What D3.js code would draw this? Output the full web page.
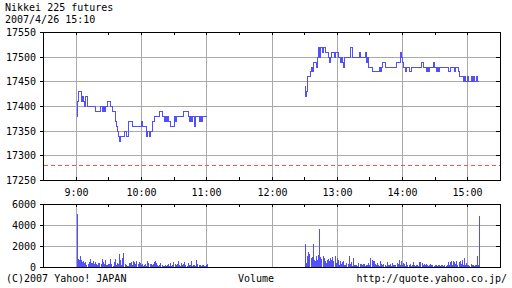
<!DOCTYPE html>
<html>
<head>
<meta charset="utf-8">
<script src="https://cdn.jsdelivr.net/npm/d3@7"></script>
<style>
  body { margin: 0; background: #fff; }
  svg { display: block; }
  .axis path { display: none; }
  .axis line { stroke: #000; }
  .axis text, text { fill: #000; font-family: "DejaVu Sans Mono", monospace; font-size: 10px; }
</style>
</head>
<body>
<script>
/* Data (one value per minute) */
const title = "Nikkei 225 futures";
const stamp = "2007/4/26 15:10";
const prevClose = 17280;

const priceTicks = [17250, 17300, 17350, 17400, 17450, 17500, 17550];
const volumeTicks = [0, 2000, 4000, 6000];
const hours = [9, 10, 11, 12, 13, 14, 15];
const hourLabels = ["9:00", "10:00", "11:00", "12:00", "13:00", "14:00", "15:00"];

// 9:00 - 11:00
const morningPrices = [
  17380,17410,17430,17430,17430,17410,17420,17410,17400,17420,
  17400,17400,17400,17400,17400,17400,17400,17400,17390,17390,
  17390,17390,17400,17400,17390,17400,17390,17400,17400,17410,
  17410,17410,17400,17390,17390,17390,17370,17360,17350,17340,
  17330,17340,17340,17340,17350,17350,17340,17340,17370,17370,
  17370,17370,17360,17360,17360,17360,17360,17360,17360,17360,
  17370,17360,17360,17360,17360,17340,17350,17340,17350,17350,
  17370,17370,17380,17380,17380,17380,17380,17390,17390,17380,
  17380,17370,17380,17370,17380,17370,17370,17360,17360,17360,
  17380,17370,17380,17380,17380,17380,17380,17380,17380,17390,
  17390,17390,17390,17380,17370,17380,17370,17380,17380,17360,
  17380,17380,17380,17370,17380,17370,17380,17380,17380,17380,
  17380
];
const morningVolume = [
  5050,800,700,1050,650,450,550,400,500,150,
  300,450,800,400,350,600,300,450,300,150,
  400,350,250,800,500,300,650,200,150,300,
  250,800,300,100,450,750,200,350,250,1250,
  700,200,850,1350,300,150,50,100,400,350,
  500,150,600,450,300,600,250,500,400,200,
  300,100,150,250,100,600,350,250,300,200,
  250,500,550,400,200,100,150,350,150,100,
  50,200,100,150,250,100,350,100,200,450,
  250,150,300,600,200,100,400,150,250,500,
  150,100,350,150,200,550,100,200,150,100,
  650,300,150,200,100,150,200,50,100,150,
  300
];

// 12:30 - 15:10
const afternoonPrices = [
  17440,17420,17430,17460,17460,17470,17480,17470,17490,17490,
  17490,17480,17500,17520,17500,17520,17510,17520,17520,17510,
  17510,17510,17500,17490,17500,17510,17510,17500,17510,17510,
  17510,17500,17500,17490,17500,17490,17480,17500,17500,17500,
  17500,17500,17520,17520,17500,17500,17500,17500,17500,17500,
  17510,17500,17500,17500,17500,17500,17510,17490,17500,17480,
  17480,17480,17470,17470,17470,17470,17470,17470,17470,17480,
  17470,17480,17490,17490,17480,17480,17480,17480,17480,17480,
  17480,17480,17480,17480,17490,17490,17490,17490,17510,17500,
  17490,17480,17480,17470,17480,17480,17470,17470,17480,17480,
  17480,17480,17480,17480,17480,17480,17480,17490,17490,17480,
  17480,17480,17470,17480,17470,17480,17480,17480,17490,17480,
  17480,17470,17480,17470,17480,17480,17480,17480,17480,17480,
  17480,17480,17470,17470,17480,17480,17480,17480,17470,17480,
  17480,17470,17460,17460,17460,17460,17450,17460,17450,17450,
  17460,17450,17450,17460,17450,17460,17450,17450,17460,17450,
  17450
];
const afternoonVolume = [
  2200,380,1080,1400,1270,860,950,2200,700,540,
  1080,700,1150,3650,950,760,1080,830,540,380,
  700,760,600,860,700,950,540,1020,380,830,
  700,190,570,320,440,600,220,220,380,320,
  1080,320,440,130,860,190,150,200,100,380,
  300,320,150,320,250,100,200,150,400,200,
  860,700,600,540,250,150,380,200,100,540,
  250,150,320,200,100,440,150,200,320,100,
  380,150,200,150,380,250,700,200,570,150,
  380,250,100,440,200,150,290,100,150,440,
  200,100,150,220,100,440,470,380,200,320,
  150,290,200,100,150,290,190,150,100,220,
  150,100,220,150,100,220,150,100,220,100,
  150,440,200,500,570,200,540,440,250,570,
  200,440,570,300,640,200,830,200,380,150,
  220,100,290,150,220,100,200,150,1020,200,
  4890
];

/* Setup */
const w = 512, h = 288;
const lineColor = "#5050ff";
const day = (hh, mm) => new Date(2007, 3, 26, hh, mm);

const toRows = (start, prices, vols) => prices.map((p, i) => ({
  t: d3.timeMinute.offset(start, i), p: p, v: vols[i]
}));
const morning = toRows(day(9, 0), morningPrices, morningVolume);
const afternoon = toRows(day(12, 30), afternoonPrices, afternoonVolume);

const svg = d3.select("body").append("svg")
  .attr("width", w)
  .attr("height", h);

/* Scales */
const x = d3.scaleTime()
  .domain([day(8, 30), day(15, 30)])
  .rangeRound([43, 500]);

const yP = d3.scaleLinear()
  .domain([17250, 17550])
  .rangeRound([180, 32]);

const yV = d3.scaleLinear()
  .domain([0, 6000])
  .rangeRound([267, 204]);

const halfHours = d3.timeMinute.every(30).range(day(8, 30), day(15, 31));
const hourDates = hours.map(hh => day(hh, 0));

/* Title */
svg.append("text").attr("x", 5).attr("y", 11).text(title);
svg.append("text").attr("x", 5).attr("y", 23).text(stamp);

/* Panel drawing (grid, frame, ticks) */
let panel = (y, ticks, gridTicks) => {
  const [y0, y1] = y.range();
  const g = svg.append("g");

  // grid
  g.selectAll(".hgrid").data(gridTicks).enter().append("line")
    .attr("x1", x.range()[0]).attr("x2", x.range()[1])
    .attr("y1", d => y(d) + 0.5).attr("y2", d => y(d) + 0.5)
    .attr("stroke", "#aaa");
  g.selectAll(".vgrid").data(hourDates).enter().append("line")
    .attr("x1", d => x(d) + 0.5).attr("x2", d => x(d) + 0.5)
    .attr("y1", y1).attr("y2", y0)
    .attr("stroke", "#aaa");

  // frame
  g.append("rect")
    .attr("x", x.range()[0] + 0.5).attr("y", y1 + 0.5)
    .attr("width", x.range()[1] - x.range()[0])
    .attr("height", y0 - y1)
    .attr("fill", "none").attr("stroke", "#000");

  // left axis with labels
  svg.append("g").attr("class", "axis")
    .attr("transform", "translate(" + x.range()[0] + ",0)")
    .call(d3.axisLeft(y).tickValues(ticks).tickSize(3).tickPadding(4).tickFormat(d3.format("d")));

  // right ticks pointing in
  svg.append("g").attr("class", "axis")
    .attr("transform", "translate(" + x.range()[1] + ",0)")
    .call(d3.axisLeft(y).tickValues(ticks).tickSize(4).tickFormat(""));

  // top ticks pointing down
  svg.append("g").attr("class", "axis")
    .attr("transform", "translate(0," + y1 + ")")
    .call(d3.axisBottom(x).tickValues(halfHours).tickSize(3).tickFormat(""));

  return g;
};

/* Price panel */
panel(yP, priceTicks, priceTicks.slice(1, -1));

svg.append("g").attr("class", "axis")
  .attr("transform", "translate(0," + yP.range()[0] + ")")
  .call(d3.axisTop(x).tickValues(halfHours).tickSize(3).tickFormat(""));

svg.append("g").attr("class", "axis")
  .attr("transform", "translate(0," + yP.range()[0] + ")")
  .call(d3.axisBottom(x).tickValues(hourDates).tickSize(0).tickPadding(9)
    .tickFormat((d, i) => hourLabels[i]));

// previous close
svg.append("line")
  .attr("x1", x.range()[0] + 1).attr("x2", x.range()[1])
  .attr("y1", yP(prevClose) + 0.5).attr("y2", yP(prevClose) + 0.5)
  .attr("stroke", "#ff5050")
  .attr("stroke-dasharray", "4,3");

const line = d3.line()
  .x(d => x(d.t))
  .y(d => yP(d.p))
  .curve(d3.curveStepAfter);

svg.append("g")
  .attr("transform", "translate(0.5,0.5)")
  .selectAll("path")
  .data([morning, afternoon])
  .enter()
  .append("path")
  .attr("d", line)
  .attr("fill", "none")
  .attr("stroke", lineColor)
  .attr("stroke-width", 1)
  .attr("shape-rendering", "crispEdges");

/* Volume panel */
panel(yV, volumeTicks, volumeTicks.slice(1, -1));

svg.append("g")
  .selectAll("rect")
  .data(morning.concat(afternoon))
  .enter()
  .append("rect")
  .attr("x", d => x(d.t) + 1)
  .attr("y", d => yV(d.v))
  .attr("width", 1)
  .attr("height", d => yV(0) - yV(d.v))
  .attr("fill", lineColor)
  .attr("shape-rendering", "crispEdges");

/* Footer */
svg.append("text").attr("x", 6).attr("y", 282).text("(C)2007 Yahoo! JAPAN");
svg.append("text").attr("x", 256).attr("y", 282).attr("text-anchor", "middle").text("Volume");
svg.append("text").attr("x", 507).attr("y", 282).attr("text-anchor", "end").text("http://quote.yahoo.co.jp/");
</script>
</body>
</html>
